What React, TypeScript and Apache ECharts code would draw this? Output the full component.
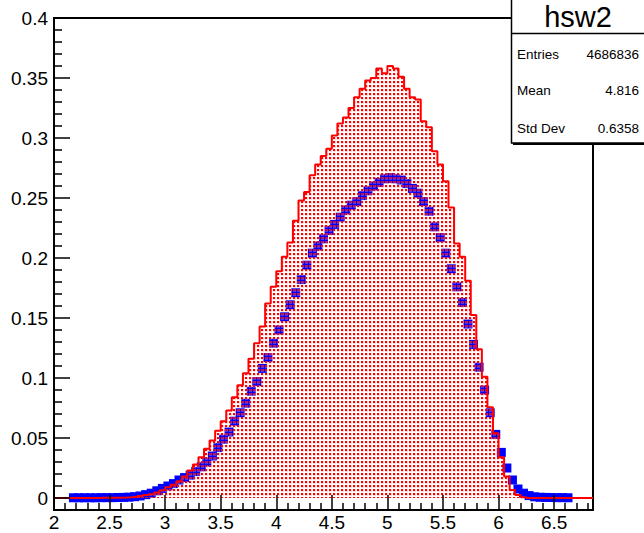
import React, { useEffect, useRef } from 'react';
import * as echarts from 'echarts';

// Red histogram: bins of width 0.05 starting at 2.00
const RED_BIN_START = 2.0;
const BIN_WIDTH = 0.05;
const RED_VALUES = [
  0, 0, 0, 0, 0.0001, 0.0001, 0.0001, 0.0001, 0.0002, 0.0002, 0.0002, 0.0003,
  0.0004, 0.0007, 0.0011, 0.0017, 0.0025, 0.0032, 0.0045, 0.0065,
  0.009, 0.011, 0.014, 0.018, 0.023, 0.028, 0.034, 0.041, 0.048, 0.056,
  0.064, 0.073, 0.084, 0.094, 0.104, 0.116, 0.129, 0.143, 0.162, 0.176,
  0.189, 0.201, 0.213, 0.231, 0.248, 0.255, 0.269, 0.278, 0.285, 0.291,
  0.302, 0.312, 0.317, 0.325, 0.334, 0.341, 0.348, 0.350, 0.358, 0.354,
  0.360, 0.358, 0.351, 0.341, 0.334, 0.332, 0.314, 0.309, 0.289, 0.278,
  0.264, 0.242, 0.212, 0.201, 0.181, 0.1525, 0.124, 0.101, 0.0756, 0.054,
  0.034, 0.018, 0.0067, 0.0025, 0.0006,
  0, 0, 0, 0, 0, 0, 0, 0, 0, 0, 0, 0,
];

// Blue markers: bin centres starting at 2.175, spaced 0.05
const BLUE_FIRST_CENTER = 2.175;
const BLUE_VALUES = [
  0.0002, 0.0002, 0.0002, 0.0002, 0.0002, 0.0003, 0.0003, 0.0003, 0.0004, 0.0005,
  0.0007, 0.0011, 0.0017, 0.0028,
  0.004, 0.006, 0.008, 0.010, 0.012, 0.015, 0.017, 0.019, 0.022, 0.026,
  0.030, 0.035, 0.042, 0.049, 0.055, 0.064, 0.071, 0.079, 0.089, 0.097,
  0.108, 0.117, 0.129, 0.140, 0.151, 0.161, 0.171, 0.182, 0.194,
  0.204, 0.210, 0.216, 0.223, 0.228, 0.234, 0.240, 0.244, 0.247, 0.252,
  0.256, 0.260, 0.263, 0.266, 0.267,
  0.266, 0.265, 0.262, 0.258, 0.254, 0.247, 0.239, 0.226, 0.217, 0.204,
  0.191, 0.176, 0.163, 0.145, 0.128, 0.109, 0.090, 0.071, 0.053, 0.038,
  0.025, 0.015, 0.0075, 0.004, 0.002, 0.001, 0.0006, 0.0005, 0.0004, 0.0003,
  0.0003, 0.0002,
];

const X_MIN = 2;
const X_MAX = 6.85;
const Y_MIN = -0.01;
const Y_MAX = 0.4;
const X_MAJOR_TICKS = [2, 2.5, 3, 3.5, 4, 4.5, 5, 5.5, 6, 6.5];
const X_MINOR_TICKS = [
  2.1, 2.2, 2.3, 2.4, 2.6, 2.7, 2.8, 2.9, 3.1, 3.2, 3.3, 3.4, 3.6, 3.7, 3.8, 3.9,
  4.1, 4.2, 4.3, 4.4, 4.6, 4.7, 4.8, 4.9, 5.1, 5.2, 5.3, 5.4, 5.6, 5.7, 5.8, 5.9,
  6.1, 6.2, 6.3, 6.4, 6.6, 6.7, 6.8,
];
const Y_MAJOR_TICKS = [0, 0.05, 0.1, 0.15, 0.2, 0.25, 0.3, 0.35, 0.4];
const Y_MINOR_TICKS = [
  -0.01, 0.01, 0.02, 0.03, 0.04, 0.06, 0.07, 0.08, 0.09, 0.11, 0.12, 0.13, 0.14,
  0.16, 0.17, 0.18, 0.19, 0.21, 0.22, 0.23, 0.24, 0.26, 0.27, 0.28, 0.29,
  0.31, 0.32, 0.33, 0.34, 0.36, 0.37, 0.38, 0.39,
];

const STATS_TITLE = 'hsw2';
const STATS_LABELS = ['Entries', 'Mean', 'Std Dev'];
const STATS_VALUES = ['4686836', '4.816', '0.6358'];

const FONT = "'Liberation Sans', Arial, Helvetica, sans-serif";

export default function App() {
  const ref = useRef<HTMLDivElement>(null);

  useEffect(() => {
    const el = ref.current;
    if (!el) return;
    const chart = echarts.init(el, null, { renderer: 'svg' });

    const tile = document.createElement('canvas');
    tile.width = 4;
    tile.height = 4;
    const ctx = tile.getContext('2d');
    if (ctx) {
      ctx.fillStyle = 'rgba(255,150,150,0.35)';
      ctx.fillRect(0, 0, 4, 4);
      ctx.clearRect(0, 0, 4, 1);
      ctx.clearRect(0, 0, 1, 4);
      ctx.fillStyle = 'rgb(255,0,0)';
      ctx.fillRect(1, 1, 2, 2);
    }

    const redData: number[][] = RED_VALUES.map((v, i) => [RED_BIN_START + i * BIN_WIDTH, v]);
    redData.push([RED_BIN_START + RED_VALUES.length * BIN_WIDTH, RED_VALUES[RED_VALUES.length - 1]]);
    const blueData = BLUE_VALUES.map((v, i) => [BLUE_FIRST_CENTER + i * BIN_WIDTH, v]);

    const labelStyle = { color: '#000', fontFamily: FONT, fontSize: 19 };

    const statsY = [54.5, 90.8, 128.4];

    const option: any = {
      animation: false,
      grid: {
        left: 54,
        top: 18,
        right: 51,
        bottom: 23,
        show: true,
        borderColor: '#000',
        borderWidth: 2,
        backgroundColor: 'transparent',
        outerBoundsMode: 'none',
      },
      xAxis: [
        {
          type: 'value',
          min: X_MIN,
          max: X_MAX,
          position: 'bottom',
          z: 10,
          splitLine: { show: false },
          axisLine: { show: true, onZero: false, lineStyle: { color: '#000', width: 2 } },
          axisTick: { show: true, inside: true, length: 15, customValues: X_MAJOR_TICKS, lineStyle: { color: '#000', width: 1.5 } },
          axisLabel: { ...labelStyle, margin: 3, customValues: X_MAJOR_TICKS, formatter: (v: number) => String(v) },
        },
        {
          type: 'value',
          min: X_MIN,
          max: X_MAX,
          position: 'bottom',
          z: 10,
          splitLine: { show: false },
          axisLine: { show: false, onZero: false },
          axisTick: { show: true, inside: true, length: 7, customValues: X_MINOR_TICKS, lineStyle: { color: '#000', width: 1.5 } },
          axisLabel: { show: false },
        },
      ],
      yAxis: [
        {
          type: 'value',
          min: Y_MIN,
          max: Y_MAX,
          position: 'left',
          z: 10,
          splitLine: { show: false },
          axisLine: { show: true, onZero: false, lineStyle: { color: '#000', width: 2 } },
          axisTick: { show: true, inside: true, length: 16, customValues: Y_MAJOR_TICKS, lineStyle: { color: '#000', width: 1.5 } },
          axisLabel: {
            ...labelStyle,
            margin: 6,
            padding: [5, 0, 0, 0],
            customValues: Y_MAJOR_TICKS,
            formatter: (v: number) => String(Number(v.toFixed(2))),
          },
        },
        {
          type: 'value',
          min: Y_MIN,
          max: Y_MAX,
          position: 'left',
          z: 10,
          splitLine: { show: false },
          axisLine: { show: false, onZero: false },
          axisTick: { show: true, inside: true, length: 8, customValues: Y_MINOR_TICKS, lineStyle: { color: '#000', width: 1.5 } },
          axisLabel: { show: false },
        },
      ],
      series: [
        {
          type: 'scatter',
          name: 'blue',
          xAxisIndex: 0,
          yAxisIndex: 0,
          data: blueData,
          symbol: 'rect',
          symbolSize: [9, 9],
          itemStyle: { color: '#0000ff', opacity: 1 },
          z: 2,
        },
        {
          type: 'line',
          name: 'hsw2',
          xAxisIndex: 0,
          yAxisIndex: 0,
          data: redData,
          step: 'end',
          symbol: 'none',
          showSymbol: false,
          itemStyle: { color: '#ff0000' },
          lineStyle: { color: '#ff0000', width: 2 },
          areaStyle: { color: { image: tile, repeat: 'repeat' }, opacity: 1 },
          z: 3,
        },
      ],
      graphic: {
        elements: [
          {
            type: 'rect',
            z: 100,
            shape: { x: 511.5, y: -2, width: 140, height: 145 },
            style: { fill: '#fff', stroke: '#000', lineWidth: 1.5 },
          },
          {
            type: 'line',
            z: 101,
            shape: { x1: 511.5, y1: 33.5, x2: 650, y2: 33.5 },
            style: { stroke: '#000', lineWidth: 1.5 },
          },
          {
            type: 'line',
            z: 101,
            shape: { x1: 513, y1: 144, x2: 650, y2: 144 },
            style: { stroke: '#000', lineWidth: 2 },
          },
          {
            type: 'text',
            z: 102,
            x: 578,
            y: 16.7,
            style: {
              text: STATS_TITLE,
              fill: '#000',
              font: `29px ${FONT}`,
              align: 'center',
              verticalAlign: 'middle',
            },
          },
          ...STATS_LABELS.map((t, i) => ({
            type: 'text',
            z: 102,
            x: 517,
            y: statsY[i],
            style: { text: t, fill: '#000', font: `13.5px ${FONT}`, align: 'left', verticalAlign: 'middle' },
          })),
          ...STATS_VALUES.map((t, i) => ({
            type: 'text',
            z: 102,
            x: 639,
            y: statsY[i],
            style: { text: t, fill: '#000', font: `13.5px ${FONT}`, align: 'right', verticalAlign: 'middle' },
          })),
        ],
      },
    };

    chart.setOption(option);
    return () => chart.dispose();
  }, []);

  return (
    <div
      ref={ref}
      style={{ position: 'fixed', left: 0, top: 0, width: 644, height: 533, background: '#fff' }}
    />
  );
}
